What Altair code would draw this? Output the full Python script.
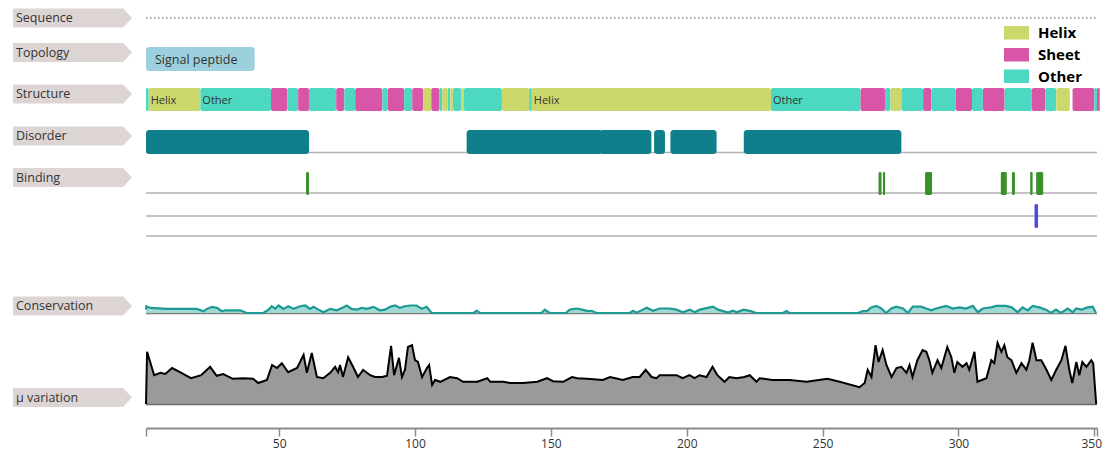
import altair as alt
import pandas as pd

SEQ_LEN = 351

# ---------------- data ----------------
struct_start = [1, 2, 21, 47, 53, 57, 61, 71, 74, 78, 88, 90, 96, 99, 103, 106, 109, 110, 112, 113,
                114, 117, 118, 132, 142, 143, 231, 264, 273, 275, 279, 287, 290, 299, 305, 309, 317,
                327, 332, 336, 342, 350, 351]
struct_end = [2, 21, 47, 53, 57, 61, 71, 74, 78, 88, 90, 96, 99, 103, 106, 109, 110, 112, 113, 114,
              117, 118, 132, 142, 143, 231, 264, 273, 275, 279, 287, 290, 299, 305, 309, 317, 327,
              332, 336, 341, 350, 351, 352]
struct_type = ["Other", "Helix", "Other", "Sheet", "Other", "Sheet", "Other", "Sheet", "Other", "Sheet",
               "Other", "Sheet", "Other", "Sheet", "Helix", "Sheet", "Other", "Helix", "Other", "Helix",
               "Other", "Helix", "Other", "Helix", "Other", "Helix", "Other", "Sheet", "Other", "Helix",
               "Other", "Sheet", "Other", "Sheet", "Other", "Sheet", "Other", "Sheet", "Other", "Helix",
               "Sheet", "Other", "Sheet"]

topo_start = [1]
topo_end = [41]
topo_label = ["Signal peptide"]

disorder_start = [1, 119, 168, 188, 194, 221]
disorder_end = [61, 169, 187, 192, 211, 279]

binding_start = [59.9, 270.6, 272.2, 287.7, 315.6, 319.7, 326.4, 328.6]
binding_end = [61.0, 271.7, 273.0, 290.3, 317.8, 320.8, 327.3, 331.2]

binding2_start = [328.0]
binding2_end = [329.3]

cons_pos = [1, 1.1, 2.6, 8.7, 14.7, 19.7, 22.2, 23.4, 25.3, 27.1, 28.9, 30.2, 35.7, 38.1, 44.2, 46.1,
            47.3, 48.5, 49.8, 51.6, 53.4, 55.3, 57.7, 59.6, 61.4, 62.6, 64.5, 66.3, 68.8, 71.2, 73.1,
            74.9, 76.7, 78.6, 80.4, 82.3, 84.7, 87.1, 89.0, 90.8, 92.7, 94.5, 96.3, 98.2, 100.6, 102.5,
            104.3, 106.1, 121.5, 122.7, 124, 146.5, 147.8, 149.5, 155.5, 157, 159.4, 161.5, 163.6, 165,
            166.8, 179, 180.3, 181.5, 183.9, 185.2, 187.6, 190, 193.7, 196.2, 198.6, 201.1, 203, 204.8,
            209.7, 211.5, 213.4, 215.2, 217, 218.5, 219.5, 221, 223.5, 225.6, 235.4, 236.7, 237.9,
            263, 264.8, 266.3, 267.9, 269.8, 271.6, 273.4, 275.3, 277.1, 279.6, 281.4, 283.2, 286.3,
            288.1, 290, 291.8, 295.5, 297.9, 300.4, 302.8, 305.3, 307.1, 309, 312, 313.9, 317.5, 319.6,
            321.8, 323.6, 325.5, 327.3, 329.8, 332.2, 334.1, 335.9, 337.7, 340.2, 342.1, 343.3, 345.4,
            347.5, 349.4, 350.6]
cons_val = [0.45, 0.9, 0.68, 0.55, 0.55, 0.55, 0.23, 0.55, 0.82, 0.68, 0.23, 0.36, 0.36, 0.0, 0.0, 0.45,
            0.9, 0.55, 1.0, 0.55, 0.9, 0.55, 0.9, 1.0, 0.55, 0.82, 0.45, 0.09, 0.55, 0.36, 0.68,
            1.0, 0.55, 0.45, 0.68, 0.55, 0.82, 0.36, 0.45, 0.82, 1.0, 0.68, 0.9, 1.0, 1.0, 0.55,
            0.82, 0.0, 0.0, 0.3, 0.0, 0.0, 0.45, 0.0, 0.0, 0.45, 0.6, 0.45, 0.25, 0.3,
            0.0, 0.0, 0.3, 0.05, 0.45, 0.7, 0.3, 0.6, 0.6, 0.45, 0.1, 0.45, 0.1, 0.45,
            0.85, 0.45, 0.25, 0.05, 0.3, 0.1, 0.25, 0.45, 0.25, 0.0, 0.0, 0.25, 0.0,
            0.0, 0.25, 0.25, 0.75, 0.95, 0.6, 0.0, 0.6, 0.85, 0.6, 0.0, 0.85, 0.85,
            0.6, 0.35, 0.6, 0.95, 0.6, 0.75, 0.6, 0.95, 0.1, 0.6, 0.75, 0.95, 0.95, 0.75,
            0.1, 0.75, 0.35, 0.95, 0.75, 0.45, 0.0, 0.45, 0.0, 0.6, 0.1, 0.6, 0.45,
            0.75, 0.85, 0.0]

mu_pos = [1, 1.4, 4, 6.3, 8.1, 10.6, 13.5, 15.5, 17.6, 21.3, 24.6, 27, 29.4, 33, 36.8, 40.4, 42.3, 45.5,
          47.4, 49.2, 51, 53.3, 56.6, 59, 60.2, 62, 63.9, 66.2, 68.8, 70.6, 71.7, 72.4, 73.5, 75.4, 77.2,
          79, 80.9, 83.5, 85.3, 87.9, 89.7, 91.2, 92.3, 94.1, 95.2, 96.3, 97.4, 98.9, 100, 101.1, 102.6,
          104.4, 105.2, 106.3, 107.4, 109.3, 112.9, 115.5, 117.7, 122.9, 126.6, 127.7, 132.5, 135, 139.8,
          145, 148.6, 150.8, 154.5, 157.8, 159.7, 163.3, 169.1, 171.8, 176.5, 180.1, 182.7, 184.9, 187.1,
          188.9, 190, 193.7, 196.3, 198.5, 201, 202.9, 204.7, 207.3, 209.5, 211.3, 213.9, 215.7, 218.3,
          221.2, 223.2, 225.7, 226.8, 231.6, 237.9, 244.1, 251.8, 256.3, 263.6, 265.5, 266.6, 268, 269.5,
          270.6, 272.1, 273.5, 275.4, 277.2, 279, 280.9, 282, 283.1, 284.9, 286.8, 288.2, 289.3, 290.4,
          292.3, 293.7, 295.9, 297.4, 298.5, 299.6, 301.5, 303, 304, 305.9, 307, 310.3, 312.1, 313.2,
          314.4, 315.8, 316.9, 318, 319.5, 321.3, 323.2, 325, 326.1, 327.3, 328.7, 330.5, 332.4, 334.2,
          336, 337.9, 339.4, 340.8, 341.9, 343.4, 344.5, 345.6, 347.1, 348.9, 349.6, 350.7]
mu_val = [0.0, 0.87, 0.48, 0.52, 0.5, 0.6, 0.53, 0.48, 0.43, 0.48, 0.62, 0.47, 0.5, 0.42, 0.43, 0.42, 0.35,
          0.4, 0.65, 0.6, 0.68, 0.53, 0.6, 0.82, 0.52, 0.85, 0.45, 0.43, 0.52, 0.62, 0.53, 0.65, 0.45,
          0.78, 0.62, 0.45, 0.57, 0.48, 0.45, 0.45, 0.47, 0.97, 0.48, 0.77, 0.45, 0.57, 0.95, 0.98, 0.73,
          0.7, 0.45, 0.6, 0.65, 0.32, 0.4, 0.37, 0.45, 0.43, 0.37, 0.37, 0.43, 0.37, 0.37, 0.35, 0.35,
          0.37, 0.43, 0.38, 0.37, 0.45, 0.43, 0.42, 0.4, 0.45, 0.4, 0.45, 0.45, 0.57, 0.45, 0.43, 0.48,
          0.48, 0.48, 0.43, 0.48, 0.43, 0.48, 0.45, 0.62, 0.48, 0.37, 0.45, 0.43, 0.45, 0.48, 0.37, 0.43,
          0.4, 0.4, 0.37, 0.42, 0.37, 0.28, 0.35, 0.57, 0.45, 0.98, 0.7, 0.9, 0.65, 0.45, 0.6, 0.62, 0.52,
          0.65, 0.45, 0.73, 0.9, 0.87, 0.73, 0.52, 0.73, 0.6, 0.95, 0.78, 0.52, 0.7, 0.62, 0.68, 0.57,
          0.87, 0.37, 0.43, 0.73, 0.68, 1.02, 0.87, 0.98, 0.78, 0.73, 0.52, 0.68, 0.57, 0.73, 1.02, 0.73,
          0.73, 0.57, 0.4, 0.57, 0.73, 0.97, 0.57, 0.35, 0.7, 0.48, 0.7, 0.62, 0.73, 0.68, 0.0]

tag_names = ["Sequence", "Topology", "Structure", "Disorder", "Binding", "Conservation", "\u03bc variation"]
legend_types = ["Helix", "Sheet", "Other"]
palette = ["#cdd86c", "#d855a8", "#4dd8c1"]
tick_values = [1, 50, 100, 150, 200, 250, 300, 350, 351]

# ---------------- layout constants (pixels inside the plot area) ----------------
W, H = 951, 420
TAG_Y = [10, 44.5, 86, 128, 169.5, 298, 389.5]
LEGEND_TOP = [18, 40, 61.5]

struct_df = pd.DataFrame({"start": struct_start, "end": struct_end, "type": struct_type})
struct_df["len"] = struct_df["end"] - struct_df["start"]
topo_df = pd.DataFrame({"start": topo_start, "end": topo_end, "label": topo_label})
dis_df = pd.DataFrame({"start": disorder_start, "end": disorder_end})
bind_df = pd.DataFrame({"start": binding_start, "end": binding_end})
bind2_df = pd.DataFrame({"start": binding2_start, "end": binding2_end})
cons_df = pd.DataFrame({"pos": cons_pos, "val": cons_val})
mu_df = pd.DataFrame({"pos": mu_pos, "val": mu_val})
span_df = pd.DataFrame({"start": [1], "end": [SEQ_LEN]})

XSCALE = alt.Scale(domain=[1, SEQ_LEN], nice=False, zero=False)
AXIS = alt.Axis(values=tick_values, labelExpr="datum.value % 50 === 0 ? datum.label : ''",
                title=None, grid=False, domainColor="#8c8c8c", domainWidth=2, tickColor="#8c8c8c",
                tickWidth=1.5, tickSize=8, labelFontSize=12, labelColor="#333333", labelPadding=2,
                labelFlush=False, labelOverlap=False, format="d",
                labelOffset={"condition": {"test": "datum.value === 350", "value": -3}, "value": 0})


def X(field):
    return alt.X(f"{field}:Q", scale=XSCALE, axis=AXIS)


def hline(y, color="#b0b0b0", width=1.5, dash=None):
    kw = dict(color=color, strokeWidth=width)
    if dash:
        kw["strokeDash"] = dash
    return alt.Chart(span_df).mark_rule(**kw).encode(x=X("start"), x2="end", y=alt.value(y))


layers = []

# sequence dotted line
layers.append(hline(10, color="#8a8a8a", width=1.4, dash=[1.5, 2.5]))

# topology
layers.append(alt.Chart(topo_df).mark_rect(color="#9dd0de", cornerRadius=3).encode(
    x=X("start"), x2="end", y=alt.value(39), y2=alt.value(63)))
layers.append(alt.Chart(topo_df).mark_text(align="left", baseline="middle", dx=9, fontSize=12.5,
                                           color="#333333").encode(
    x=X("start"), y=alt.value(51.5), text="label:N"))

# structure
layers.append(alt.Chart(struct_df).mark_rect(cornerRadius=2).encode(
    x=X("start"), x2="end", y=alt.value(80), y2=alt.value(103),
    color=alt.Color("type:N", scale=alt.Scale(domain=legend_types, range=palette), legend=None)))
layers.append(alt.Chart(struct_df).transform_filter("datum.len >= 18").mark_text(
    align="left", baseline="middle", dx=2, fontSize=11, color="#333333").encode(
    x=X("start"), y=alt.value(93), text="type:N"))

# disorder
layers.append(hline(144.5))
layers.append(alt.Chart(dis_df).mark_rect(color="#0f7f8c", cornerRadius=3).encode(
    x=X("start"), x2="end", y=alt.value(122), y2=alt.value(146)))

# binding
layers.append(hline(185))
layers.append(hline(208))
layers.append(hline(228))
layers.append(alt.Chart(bind_df).mark_rect(color="#3a912b", cornerRadius=1.5).encode(
    x=X("start"), x2="end", y=alt.value(164), y2=alt.value(187)))
layers.append(alt.Chart(bind2_df).mark_rect(color="#4b4be3", cornerRadius=1.5).encode(
    x=X("start"), x2="end", y=alt.value(196), y2=alt.value(220)))

# conservation
CONS_Y = alt.Scale(domain=[0, 1], range=[305, 297.5], nice=False)
layers.append(hline(305.5, color="#808080", width=1.5))
layers.append(alt.Chart(cons_df).mark_area(color="#97d6cf", opacity=0.9).encode(
    x=X("pos"), y=alt.Y("val:Q", scale=CONS_Y, axis=None)))
layers.append(alt.Chart(cons_df).mark_line(color="#1e9a94", strokeWidth=2.2).encode(
    x=X("pos"), y=alt.Y("val:Q", scale=CONS_Y, axis=None)))

# mu variation
MU_Y = alt.Scale(domain=[0, 1], range=[396, 336], nice=False)
layers.append(alt.Chart(mu_df).mark_area(color="#9a9a9a").encode(
    x=X("pos"), y=alt.Y("val:Q", scale=MU_Y, axis=None)))
layers.append(hline(396.5, color="#6e6e6e", width=1.5))
layers.append(alt.Chart(mu_df).mark_line(color="#000000", strokeWidth=2).encode(
    x=X("pos"), y=alt.Y("val:Q", scale=MU_Y, axis=None)))

# row tags (arrow shaped labels on the left)
TAG_SHAPE = "M-1,-0.16L0.85,-0.16L1,0L0.85,0.16L-1,0.16Z"
for name, ty in zip(tag_names, TAG_Y):
    d = alt.Data(values=[{"t": name}])
    layers.append(alt.Chart(d).mark_point(shape=TAG_SHAPE, size=119 * 119, filled=True,
                                          fill="#ddd5d4", opacity=1, strokeWidth=0).encode(
        x=alt.value(-73.5), y=alt.value(ty)))
    layers.append(alt.Chart(d).mark_text(align="left", baseline="middle", fontSize=12.5,
                                         color="#333333").encode(
        x=alt.value(-130), y=alt.value(ty), text="t:N"))

# legend
for name, col, top in zip(legend_types, palette, LEGEND_TOP):
    d = alt.Data(values=[{"t": name}])
    layers.append(alt.Chart(d).mark_rect(color=col).encode(
        x=alt.value(858), x2=alt.value(883), y=alt.value(top), y2=alt.value(top + 13.5)))
    layers.append(alt.Chart(d).mark_text(align="left", baseline="middle", fontSize=15,
                                         fontWeight="bold", color="#000000").encode(
        x=alt.value(892), y=alt.value(top + 7), text="t:N"))

chart = alt.layer(*layers).resolve_scale(y="independent").properties(
    width=W, height=H,
    autosize=alt.AutoSizeParams(type="none"),
    padding={"left": 138, "top": 0, "right": 5, "bottom": 25},
).configure(font="Open Sans").configure_view(stroke=None, strokeWidth=0)

chart.save("out.html", embed_options={"renderer": "svg", "actions": False})
